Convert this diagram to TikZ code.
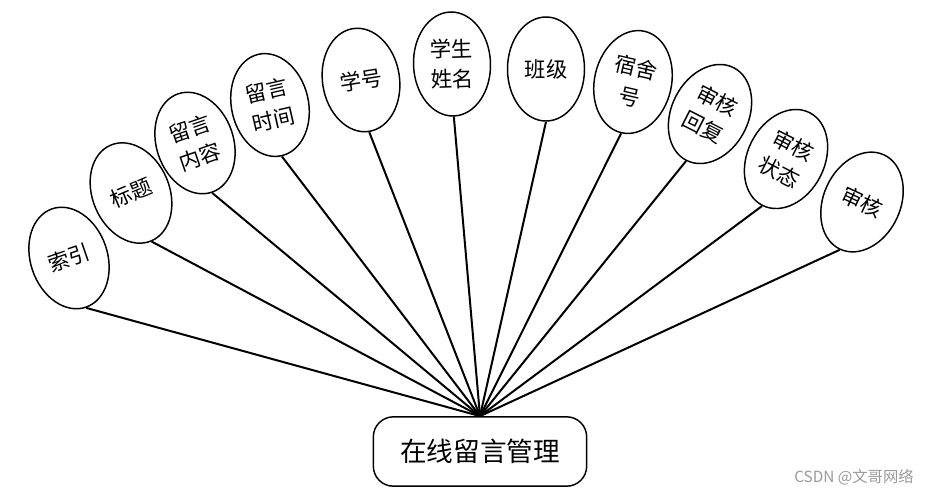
\documentclass[tikz,border=0pt]{standalone}
\usepackage{fontspec}
\usepackage{tikz}
\usetikzlibrary{shapes.geometric}
\newfontfamily\cjk{Noto Sans CJK SC}

\begin{document}
\begin{tikzpicture}[
    x=0.75pt, y=-0.75pt,
    attr/.style={ellipse,draw,line width=1.1pt,minimum width=57.75pt,minimum height=78pt,inner sep=0pt,align=center,font=\cjk\fontsize{16}{22.5}\selectfont},
    entity/.style={rectangle,draw,rounded corners=15pt,line width=1.1pt,minimum width=160pt,minimum height=52pt,font=\cjk\fontsize{20}{24}\selectfont},
    link/.style={line width=1.5pt}
]
\useasboundingbox (0,0) rectangle (938,494);

% Central entity
\node[entity] (msg) at (480,451.5) {在线留言管理};

% Attributes
\node[attr,rotate=19] (idx) at (69,258) {索引};
\node[attr,rotate=23] (title) at (131,193) {标题};
\node[attr,rotate=19] (content) at (195,143) {留言\\内容};
\node[attr,rotate=13] (mtime) at (270,105) {留言\\时间};
\node[attr,rotate=9] (sno) at (361,80) {学号};
\node[attr,rotate=2] (sname) at (452,64) {学生\\姓名};
\node[attr] (class) at (546,69) {班级};
\node[attr,rotate=-13] (dorm) at (633,82) {宿舍\\号};
\node[attr,rotate=-27] (reply) at (710,114) {审核\\回复};
\node[attr,rotate=-27] (state) at (786,159) {审核\\状态};
\node[attr,rotate=-25] (audit) at (862,202) {审核};

% Links to the entity
\draw[link] (idx.south) -- (msg.north);
\draw[link] (title.south) -- (msg.north);
\draw[link] (content.south) -- (msg.north);
\draw[link] (mtime.south) -- (msg.north);
\draw[link] (sno.south) -- (msg.north);
\draw[link] (sname.south) -- (msg.north);
\draw[link] (class.south) -- (msg.north);
\draw[link] (dorm.south) -- (msg.north);
\draw[link] (reply.south) -- (msg.north);
\draw[link] (state.south) -- (msg.north);
\draw[link] (audit.south) -- (msg.north);

% Watermark
\node[text=black!40,font=\cjk\fontsize{11.5}{14}\selectfont] (mark) at (854,477) {CSDN @文哥网络};

\end{tikzpicture}
\end{document}
